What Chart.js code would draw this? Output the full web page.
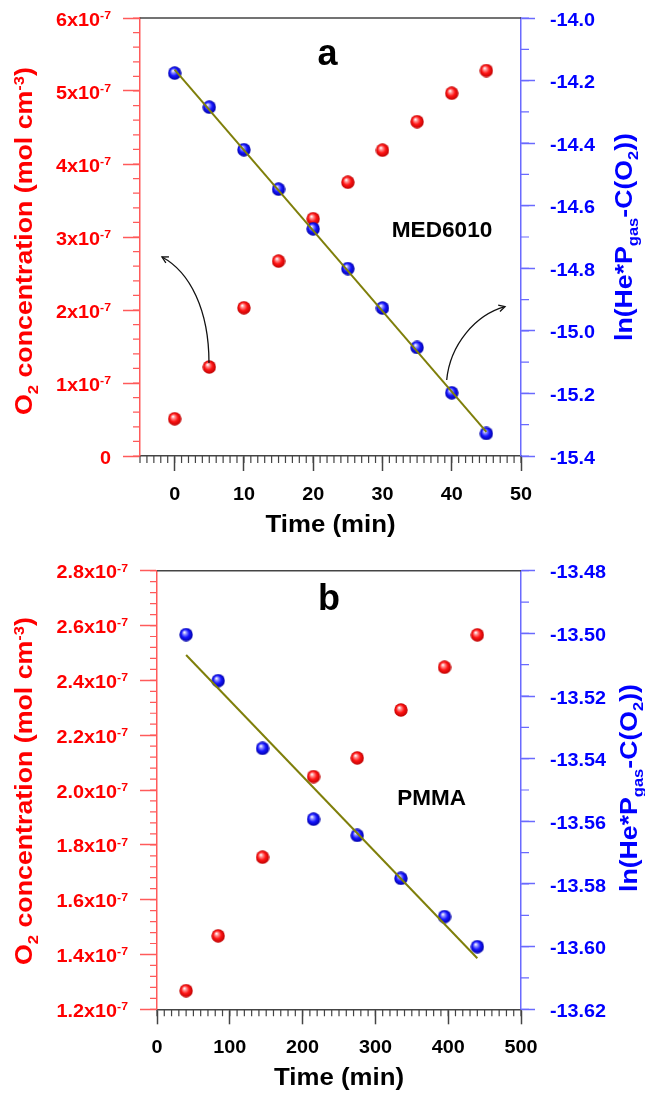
<!DOCTYPE html>
<html><head><meta charset="utf-8">
<script src="https://cdn.jsdelivr.net/npm/chart.js@4/dist/chart.umd.min.js"></script>
<style>
html,body{margin:0;padding:0;background:#fff;width:645px;height:1095px;overflow:hidden}
#wa{position:absolute;left:0;top:0;width:645px;height:545px}
#wb{position:absolute;left:0;top:545px;width:645px;height:550px}
canvas{display:block}
</style></head><body>
<div id="wa"><canvas id="ca" width="645" height="545"></canvas></div>
<div id="wb"><canvas id="cb" width="645" height="550"></canvas></div>
<script>
// ---------- Panel a: MED6010 ----------
const timeA  = [0, 5, 10, 15, 20, 25, 30, 35, 40, 45];
const o2A    = [0.51e-7, 1.22e-7, 2.03e-7, 2.67e-7, 3.25e-7, 3.75e-7, 4.19e-7, 4.58e-7, 4.97e-7, 5.28e-7];
const lnA    = [-14.176, -14.285, -14.421, -14.547, -14.674, -14.801, -14.927, -15.053, -15.198, -15.328];
const fitTimeA = [0, 45];
const fitLnA   = [-14.165, -15.323];
const xTicksA  = [0, 10, 20, 30, 40, 50];
const yTicksA  = [0, 1e-7, 2e-7, 3e-7, 4e-7, 5e-7, 6e-7];
const y1TicksA = [-14.0, -14.2, -14.4, -14.6, -14.8, -15.0, -15.2, -15.4];

// ---------- Panel b: PMMA ----------
const timeB  = [40, 84, 145, 215, 275, 335, 395, 440];
const o2B    = [1.268e-7, 1.468e-7, 1.755e-7, 2.049e-7, 2.117e-7, 2.292e-7, 2.448e-7, 2.566e-7];
const lnB    = [-13.5004, -13.5151, -13.5367, -13.5593, -13.5645, -13.5782, -13.5904, -13.6000];
const fitTimeB = [40, 440];
const fitLnB   = [-13.5069, -13.6037];
const xTicksB  = [0, 100, 200, 300, 400, 500];
const yTicksB  = [1.2e-7, 1.4e-7, 1.6e-7, 1.8e-7, 2.0e-7, 2.2e-7, 2.4e-7, 2.6e-7, 2.8e-7];
const y1TicksB = [-13.48, -13.50, -13.52, -13.54, -13.56, -13.58, -13.60, -13.62];

const FAM = '"Liberation Sans", Arial, Helvetica, sans-serif';
const RED = '#ff0000', BLUE = '#0000ff';
const RED_AX = '#ff5a5a', BLUE_AX = '#6a6aff', BLK_AX = '#444444';

function sphere(light, base, dark){
  const c = document.createElement('canvas'); c.width = c.height = 14;
  const g = c.getContext('2d');
  const grd = g.createRadialGradient(5.2, 4.6, 0.3, 7, 7, 7);
  grd.addColorStop(0, '#ffffff');
  grd.addColorStop(0.22, light);
  grd.addColorStop(0.55, base);
  grd.addColorStop(1, dark);
  g.fillStyle = grd; g.beginPath(); g.arc(7, 7, 6.7, 0, Math.PI*2); g.fill();
  return c;
}
const redBall  = sphere('#ff9090', '#ff1414', '#b80000');
const blueBall = sphere('#9090ff', '#1414ff', '#0000a0');

// rich text: parts [{t, s:'sup'|'sub'}], (x,y)=cap centre
function rich(ctx, parts, x, y, o){
  const items = parts.map(p => {
    const s = p.s ? o.size*0.62 : o.size;
    ctx.font = `bold ${s}px ${FAM}`;
    return {t:p.t, s, w:ctx.measureText(p.t).width,
            dy: p.s==='sup' ? -o.size*0.36 : (p.s==='sub' ? o.size*0.27 : 0)};
  });
  const nat = items.reduce((a,b)=>a+b.w, 0);
  const sx = o.width ? o.width/nat : (o.sx || 1);
  const tot = nat*sx;
  const x0 = o.align==='right' ? -tot : (o.align==='center' ? -tot/2 : 0);
  ctx.save();
  ctx.translate(x, y);
  if (o.rot) ctx.rotate(o.rot);
  ctx.fillStyle = o.color; ctx.textAlign = 'left'; ctx.textBaseline = 'alphabetic';
  ctx.scale(sx, 1);
  let cx = x0/sx;
  const base = o.size*0.358;
  for (const it of items){ ctx.font = `bold ${it.s}px ${FAM}`; ctx.fillText(it.t, cx, base+it.dy); cx += it.w; }
  ctx.restore();
}
function plainText(ctx, str, x, y, size, align, width){
  ctx.save();
  ctx.font = `bold ${size}px ${FAM}`;
  const w = ctx.measureText(str).width;
  const sx = width ? width/w : 1;
  ctx.translate(x, y); ctx.scale(sx, 1);
  ctx.fillStyle = '#000'; ctx.textAlign = align; ctx.textBaseline = 'alphabetic';
  ctx.fillText(str, 0, 0);
  ctx.restore();
}
function arrow(ctx, p0, p1, p2, p3){
  ctx.save();
  ctx.strokeStyle = '#111'; ctx.lineWidth = 1.3;
  ctx.beginPath(); ctx.moveTo(p0[0], p0[1]); ctx.bezierCurveTo(p1[0], p1[1], p2[0], p2[1], p3[0], p3[1]); ctx.stroke();
  const ang = Math.atan2(p3[1]-p2[1], p3[0]-p2[0]);
  const L = 7, a = 0.5;
  ctx.beginPath();
  ctx.moveTo(p3[0]-L*Math.cos(ang-a), p3[1]-L*Math.sin(ang-a));
  ctx.lineTo(p3[0], p3[1]);
  ctx.lineTo(p3[0]-L*Math.cos(ang+a), p3[1]-L*Math.sin(ang+a));
  ctx.stroke();
  ctx.restore();
}

function yLabel(v, dec){
  if (v === 0) return [{t:'0'}];
  return [{t:(v/1e-7).toFixed(dec) + 'x10'}, {t:'-7', s:'sup'}];
}

function decor(cfg){
  return {
    id: 'decor',
    afterDraw(chart){
      const ctx = chart.ctx, A = chart.chartArea;
      const sx = chart.scales.x, sy = chart.scales.y, sy1 = chart.scales.y1;
      ctx.save();
      // top frame
      ctx.strokeStyle = BLK_AX; ctx.lineWidth = 1.5;
      ctx.beginPath(); ctx.moveTo(A.left, A.top); ctx.lineTo(A.right, A.top); ctx.stroke();
      // minor ticks
      ctx.lineWidth = 1.2;
      const nx = Math.round((sx.max - sx.min)/cfg.xMinor);
      ctx.strokeStyle = BLK_AX; ctx.beginPath();
      for (let k=0; k<=nx; k++){ const p = sx.getPixelForValue(sx.min + k*cfg.xMinor); ctx.moveTo(p, A.bottom); ctx.lineTo(p, A.bottom+7); }
      ctx.stroke();
      const ny = Math.round((sy.max - sy.min)/cfg.yMinor);
      ctx.strokeStyle = RED_AX; ctx.beginPath();
      for (let k=0; k<=ny; k++){ const p = sy.getPixelForValue(sy.min + k*cfg.yMinor); ctx.moveTo(A.left, p); ctx.lineTo(A.left-7, p); }
      ctx.stroke();
      const ny1 = Math.round((sy1.max - sy1.min)/cfg.y1Minor);
      ctx.strokeStyle = BLUE_AX; ctx.beginPath();
      for (let k=0; k<=ny1; k++){ const p = sy1.getPixelForValue(sy1.min + k*cfg.y1Minor); ctx.moveTo(A.right, p); ctx.lineTo(A.right+8, p); }
      ctx.stroke();
      ctx.restore();
      // tick labels
      sx.ticks.forEach(t => rich(ctx, [{t:String(t.value)}], sx.getPixelForValue(t.value), A.bottom+37.5, {size:18.5, color:'#000', align:'center', sx:1.07}));
      sy.ticks.forEach(t => rich(ctx, yLabel(t.value, cfg.yDec), A.left-29, sy.getPixelForValue(t.value)+1, {size:18.5, color:RED, align:'right', sx:1.07}));
      sy1.ticks.forEach(t => rich(ctx, [{t:t.value.toFixed(cfg.y1Dec)}], A.right+29, sy1.getPixelForValue(t.value)+1, {size:18.5, color:BLUE, align:'left', sx:1.07}));
      // axis titles
      rich(ctx, [{t:'Time (min)'}], (A.left+A.right)/2, A.bottom+67.7, {size:23, color:'#000', align:'center', width:130});
      rich(ctx, [{t:'O'},{t:'2',s:'sub'},{t:' concentration (mol cm'},{t:'-3',s:'sup'},{t:')'}],
           24, cfg.lTitleY, {size:23, color:RED, align:'center', rot:-Math.PI/2, width:348});
      rich(ctx, [{t:'ln(He*P'},{t:'gas',s:'sub'},{t:'-C(O'},{t:'2',s:'sub'},{t:'))'}],
           cfg.rTitleX, cfg.rTitleY, {size:23, color:BLUE, align:'center', rot:-Math.PI/2, width:208});
      // annotations
      cfg.annot(ctx);
    }
  };
}

function sphereSet(xs, ys, img, axis, order){
  return {type:'scatter', data: xs.map((x,i)=>({x, y:ys[i]})), yAxisID:axis, order,
          pointStyle: img, pointRadius: 7, showLine:false};
}
function fitSet(xs, ys){
  return {type:'scatter', data: xs.map((x,i)=>({x, y:ys[i]})), yAxisID:'y1', order:0,
          showLine:true, borderColor:'#7f7f0a', borderWidth:2, pointRadius:0, fill:false};
}

function build(canvasId, p){
  const H = document.getElementById(canvasId).height;
  const fixTicks = arr => (scale => { scale.ticks = arr.map(v => ({value:v})); });
  new Chart(document.getElementById(canvasId), {
    type: 'scatter',
    data: { datasets: [
      fitSet(p.fitX, p.fitY),
      sphereSet(p.time, p.ln, blueBall, 'y1', 1),
      sphereSet(p.time, p.o2, redBall, 'y', 2)
    ]},
    options: {
      responsive:false, animation:false, devicePixelRatio:1,
      layout:{padding:{top:p.top, left:0, right:0, bottom:0}},
      plugins:{legend:{display:false}, tooltip:{enabled:false}},
      scales:{
        x:{type:'linear', position:'bottom', min:p.xMin, max:p.xMax,
           afterBuildTicks: fixTicks(p.xTicks), afterFit: s => { s.height = H - p.bottom; },
           ticks:{display:false},
           grid:{drawOnChartArea:false, drawTicks:true, tickLength:15, tickColor:BLK_AX, tickWidth:1.5},
           border:{display:true, color:BLK_AX, width:1.5}},
        y:{type:'linear', position:'left', min:p.yMin, max:p.yMax,
           afterBuildTicks: fixTicks(p.yTicks), afterFit: s => { s.width = p.left; },
           ticks:{display:false},
           grid:{drawOnChartArea:false, drawTicks:true, tickLength:17, tickColor:RED_AX, tickWidth:1.5},
           border:{display:true, color:RED_AX, width:1.5}},
        y1:{type:'linear', position:'right', min:p.y1Min, max:p.y1Max,
           afterBuildTicks: fixTicks(p.y1Ticks), afterFit: s => { s.width = 645 - p.right; },
           ticks:{display:false},
           grid:{drawOnChartArea:false, drawTicks:true, tickLength:14, tickColor:BLUE_AX, tickWidth:1.5},
           border:{display:true, color:BLUE_AX, width:1.5}}
      }
    },
    plugins:[decor(p.decor)]
  });
}

build('ca', {
  time: timeA, o2: o2A, ln: lnA, fitX: fitTimeA, fitY: fitLnA,
  xMin:-5, xMax:50, yMin:0, yMax:6e-7, y1Min:-15.4, y1Max:-14.0,
  xTicks:xTicksA, yTicks:yTicksA, y1Ticks:y1TicksA,
  top:18, bottom:456, left:140, right:521,
  decor:{xMinor:1, yMinor:0.2e-7, y1Minor:0.1, yDec:0, y1Dec:1,
         lTitleY:241, rTitleX:624, rTitleY:237,
         annot(ctx){
           plainText(ctx, 'a', 327.5, 65, 36, 'center');
           plainText(ctx, 'MED6010', 391.7, 237.3, 22, 'left', 100.7);
           arrow(ctx, [209,363], [209,310], [190,272], [162,257]);
           arrow(ctx, [446.7,380], [450,345], [475,315], [505,306.7]);
         }}
});
build('cb', {
  time: timeB, o2: o2B, ln: lnB, fitX: fitTimeB, fitY: fitLnB,
  xMin:0, xMax:500, yMin:1.2e-7, yMax:2.8e-7, y1Min:-13.62, y1Max:-13.48,
  xTicks:xTicksB, yTicks:yTicksB, y1Ticks:y1TicksB,
  top:25.7, bottom:464.3, left:157, right:521,
  decor:{xMinor:10, yMinor:0.04e-7, y1Minor:0.01, yDec:1, y1Dec:2,
         lTitleY:246, rTitleX:629, rTitleY:243,
         annot(ctx){
           plainText(ctx, 'b', 329, 65, 36, 'center');
           plainText(ctx, 'PMMA', 431.7, 260, 22, 'center', 68.7);
         }}
});
</script>
</body></html>
